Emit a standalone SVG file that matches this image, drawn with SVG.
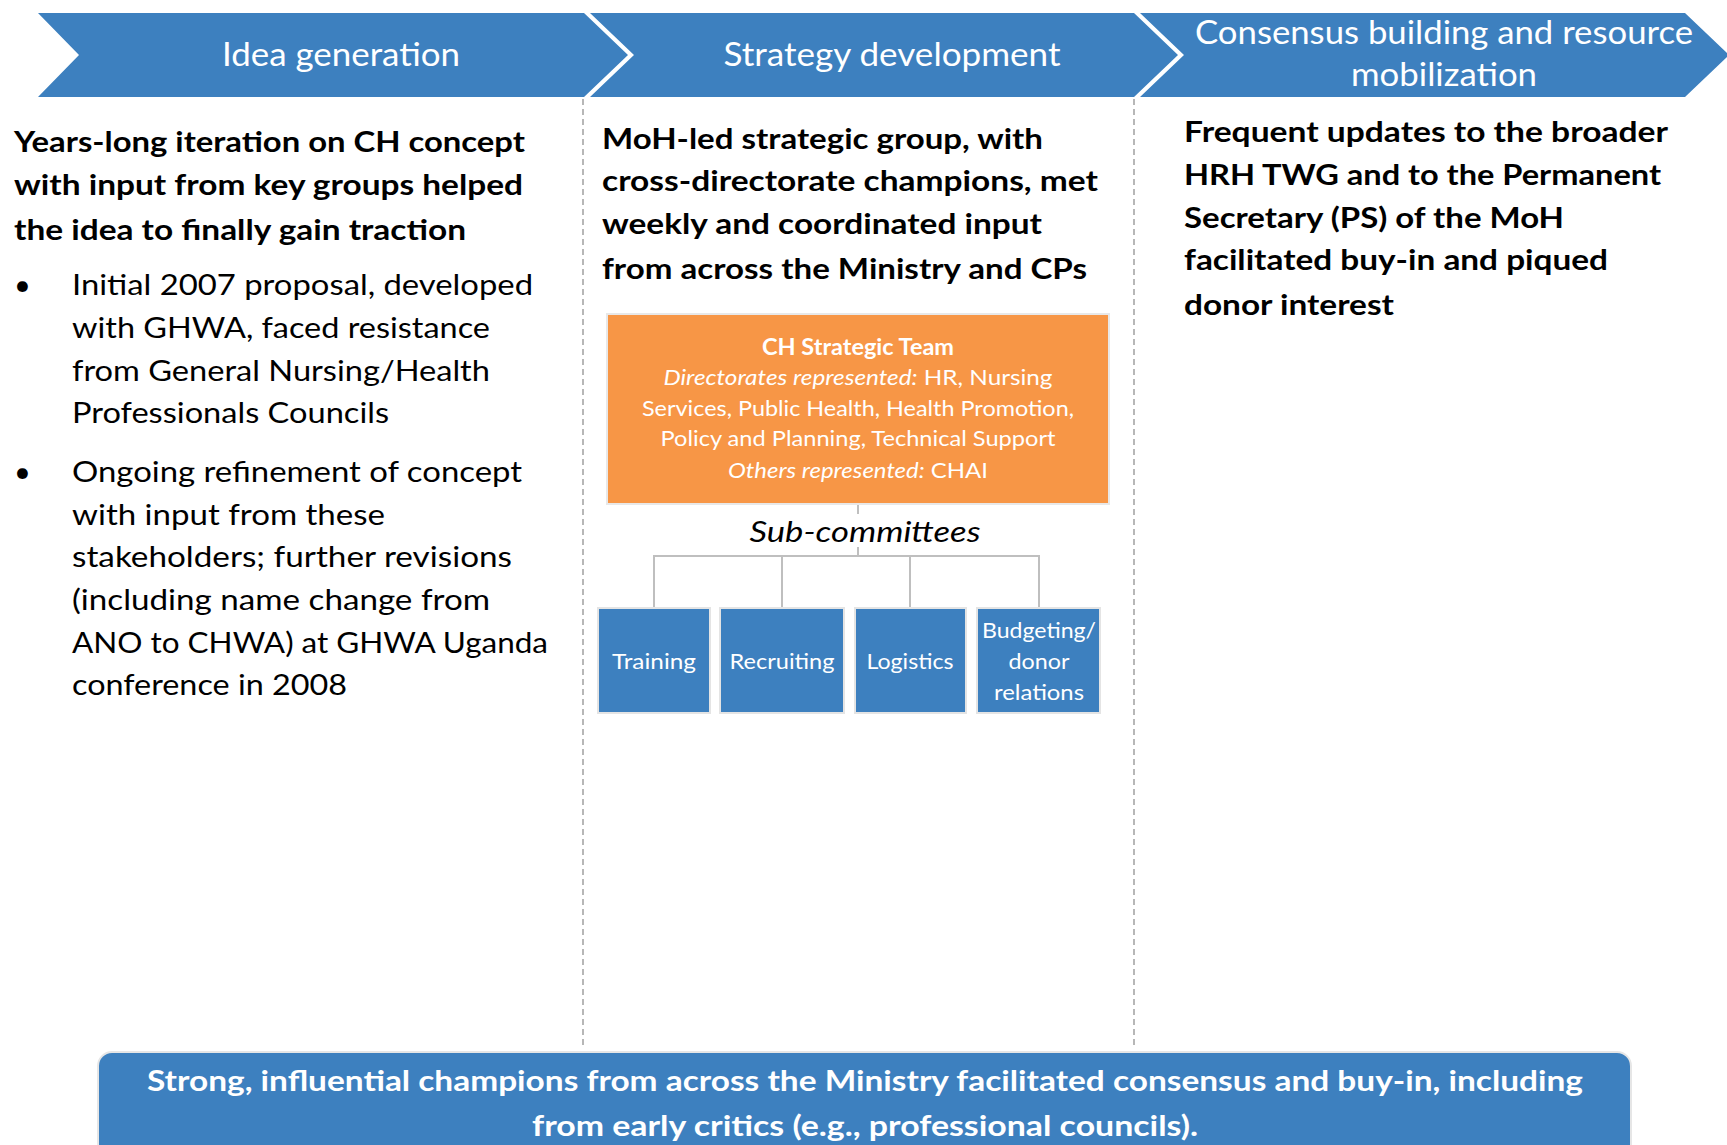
<svg xmlns="http://www.w3.org/2000/svg" width="1727" height="1145" viewBox="0 0 1727 1145">
<style>
.chev{fill:#3D80BF}
.ct{font-family:Lato,"Open Sans",sans-serif;font-size:32px;fill:#fff;text-anchor:middle}
.hd{font-family:Lato,"Open Sans",sans-serif;font-size:29px;font-weight:bold;fill:#000}
.bl{font-family:Lato,"Open Sans",sans-serif;font-size:29px;fill:#000}
.ot{font-family:Lato,"Open Sans",sans-serif;font-size:22px;fill:#fff;text-anchor:middle}
.sb{fill:#3D80BF;stroke:#E4E4E4;stroke-width:2}
.st{font-family:Lato,"Open Sans",sans-serif;font-size:22px;fill:#fff;text-anchor:middle}
.dash{stroke:#A6A6A6;stroke-width:1.6;stroke-dasharray:6,4;fill:none}
.conn{stroke:#BFBFBF;stroke-width:2;fill:none}
</style>

<g id="divider-lines">
<line class="dash" x1="583" y1="99" x2="583" y2="1048"/>
<line class="dash" x1="1134" y1="99" x2="1134" y2="1048"/>
</g>

<g id="chevron-idea">
<polygon class="chev" points="38,13 584,13 628,55 584,97 38,97 79,55"/>
<text class="ct" x="341" y="66" textLength="238" lengthAdjust="spacingAndGlyphs">Idea generation</text>
</g>
<g id="chevron-strategy">
<polygon class="chev" points="590,13 1134,13 1178,55 1134,97 590,97 634,55"/>
<text class="ct" x="892" y="66" textLength="337" lengthAdjust="spacingAndGlyphs">Strategy development</text>
</g>
<g id="chevron-consensus">
<polygon class="chev" points="1140,13 1685,13 1729,55 1685,97 1140,97 1184,55"/>
<text class="ct" x="1444" y="44" textLength="498" lengthAdjust="spacingAndGlyphs">Consensus building and resource</text>
<text class="ct" x="1444" y="86" textLength="186" lengthAdjust="spacingAndGlyphs">mobilization</text>
</g>

<g id="col-idea">
<text class="hd" x="14" y="152" textLength="511" lengthAdjust="spacingAndGlyphs">Years-long iteration on CH concept</text>
<text class="hd" x="14" y="195" textLength="509" lengthAdjust="spacingAndGlyphs">with input from key groups helped</text>
<text class="hd" x="14" y="240" textLength="452" lengthAdjust="spacingAndGlyphs">the idea to finally gain traction</text>
<text class="bl" x="14" y="295">•</text>
<text class="bl" x="72" y="295" textLength="461" lengthAdjust="spacingAndGlyphs">Initial 2007 proposal, developed</text>
<text class="bl" x="72" y="338" textLength="418" lengthAdjust="spacingAndGlyphs">with GHWA, faced resistance</text>
<text class="bl" x="72" y="381" textLength="418" lengthAdjust="spacingAndGlyphs">from General Nursing/Health</text>
<text class="bl" x="72" y="423" textLength="317" lengthAdjust="spacingAndGlyphs">Professionals Councils</text>
<text class="bl" x="14" y="482">•</text>
<text class="bl" x="72" y="482" textLength="450" lengthAdjust="spacingAndGlyphs">Ongoing refinement of concept</text>
<text class="bl" x="72" y="525" textLength="313" lengthAdjust="spacingAndGlyphs">with input from these</text>
<text class="bl" x="72" y="567" textLength="440" lengthAdjust="spacingAndGlyphs">stakeholders; further revisions</text>
<text class="bl" x="72" y="610" textLength="418" lengthAdjust="spacingAndGlyphs">(including name change from</text>
<text class="bl" x="72" y="653" textLength="476" lengthAdjust="spacingAndGlyphs">ANO to CHWA) at GHWA Uganda</text>
<text class="bl" x="72" y="695" textLength="275" lengthAdjust="spacingAndGlyphs">conference in 2008</text>
</g>

<g id="col-strategy">
<text class="hd" x="602" y="149" textLength="441" lengthAdjust="spacingAndGlyphs">MoH-led strategic group, with</text>
<text class="hd" x="602" y="191" textLength="496" lengthAdjust="spacingAndGlyphs">cross-directorate champions, met</text>
<text class="hd" x="602" y="234" textLength="440" lengthAdjust="spacingAndGlyphs">weekly and coordinated input</text>
<text class="hd" x="602" y="279" textLength="485" lengthAdjust="spacingAndGlyphs">from across the Ministry and CPs</text>
</g>

<g id="col-consensus">
<text class="hd" x="1184" y="142" textLength="484" lengthAdjust="spacingAndGlyphs">Frequent updates to the broader</text>
<text class="hd" x="1184" y="185" textLength="477" lengthAdjust="spacingAndGlyphs">HRH TWG and to the Permanent</text>
<text class="hd" x="1184" y="228" textLength="380" lengthAdjust="spacingAndGlyphs">Secretary (PS) of the MoH</text>
<text class="hd" x="1184" y="270" textLength="424" lengthAdjust="spacingAndGlyphs">facilitated buy-in and piqued</text>
<text class="hd" x="1184" y="315" textLength="210" lengthAdjust="spacingAndGlyphs">donor interest</text>
</g>

<g id="connectors">
<line class="conn" x1="858" y1="504" x2="858" y2="514"/>
<line class="conn" x1="858" y1="547" x2="858" y2="556"/>
<polyline class="conn" points="654,608 654,556 1039,556 1039,608"/>
<line class="conn" x1="782" y1="556" x2="782" y2="608"/>
<line class="conn" x1="910" y1="556" x2="910" y2="608"/>
</g>

<g id="ch-strategic-team">
<rect x="607" y="314" width="502" height="190" fill="#F79646" stroke="#E8E8E8" stroke-width="2"/>
<text class="ot" x="858" y="355" font-weight="bold" textLength="192" lengthAdjust="spacingAndGlyphs">CH Strategic Team</text>
<text class="ot" x="858" y="385" textLength="389" lengthAdjust="spacingAndGlyphs"><tspan font-style="italic">Directorates represented:</tspan> HR, Nursing</text>
<text class="ot" x="858" y="416" textLength="432" lengthAdjust="spacingAndGlyphs">Services, Public Health, Health Promotion,</text>
<text class="ot" x="858" y="446" textLength="395" lengthAdjust="spacingAndGlyphs">Policy and Planning, Technical Support</text>
<text class="ot" x="858" y="478" textLength="260" lengthAdjust="spacingAndGlyphs"><tspan font-style="italic">Others represented:</tspan> CHAI</text>
</g>

<g id="sub-committees-label">
<text x="865" y="542" font-family="Lato,'Open Sans',sans-serif" font-size="29" font-style="italic" fill="#000" text-anchor="middle" textLength="231" lengthAdjust="spacingAndGlyphs">Sub-committees</text>
</g>

<g id="sub-training">
<rect class="sb" x="598" y="608" width="112" height="105"/>
<text class="st" x="654" y="669" textLength="84" lengthAdjust="spacingAndGlyphs">Training</text>
</g>
<g id="sub-recruiting">
<rect class="sb" x="720" y="608" width="124" height="105"/>
<text class="st" x="782" y="669" textLength="105" lengthAdjust="spacingAndGlyphs">Recruiting</text>
</g>
<g id="sub-logistics">
<rect class="sb" x="855" y="608" width="111" height="105"/>
<text class="st" x="910" y="669" textLength="87" lengthAdjust="spacingAndGlyphs">Logistics</text>
</g>
<g id="sub-budgeting">
<rect class="sb" x="977" y="608" width="123" height="105"/>
<text class="st" x="1039" y="638" textLength="114" lengthAdjust="spacingAndGlyphs">Budgeting/</text>
<text class="st" x="1039" y="669" textLength="61" lengthAdjust="spacingAndGlyphs">donor</text>
<text class="st" x="1039" y="700" textLength="90" lengthAdjust="spacingAndGlyphs">relations</text>
</g>

<g id="bottom-banner">
<rect x="98" y="1052" width="1533" height="120" rx="14" ry="14" fill="#3D80BF" stroke="#E6E6E6" stroke-width="2"/>
<text x="865" y="1091" font-family="Lato,'Open Sans',sans-serif" font-size="29" font-weight="bold" fill="#fff" text-anchor="middle" textLength="1436" lengthAdjust="spacingAndGlyphs">Strong, influential champions from across the Ministry facilitated consensus and buy-in, including</text>
<text x="865" y="1136" font-family="Lato,'Open Sans',sans-serif" font-size="29" font-weight="bold" fill="#fff" text-anchor="middle" textLength="666" lengthAdjust="spacingAndGlyphs">from early critics (e.g., professional councils).</text>
</g>
</svg>
